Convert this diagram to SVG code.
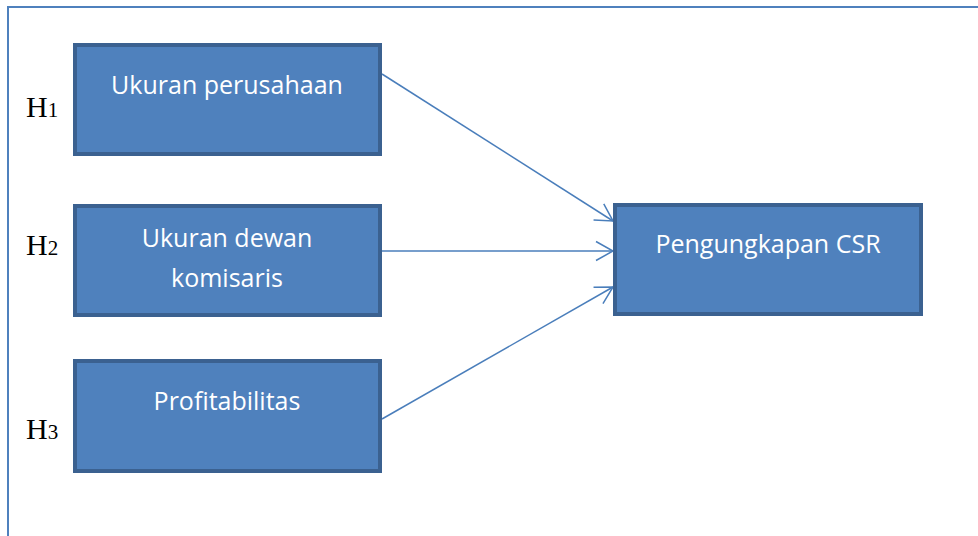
<svg xmlns="http://www.w3.org/2000/svg" width="978" height="536" viewBox="0 0 978 536">
<style>
.box{fill:#4f81bd;stroke:#3b6190;stroke-width:4}
.lbl{font-family:"Open Sans","Liberation Sans",sans-serif;font-size:25px;fill:#ffffff;text-anchor:middle}
.h{font-family:"Liberation Serif","Times New Roman",serif;font-size:30px;fill:#000}
.h tspan{font-size:21px}
.conn{stroke:#4a7ebb;stroke-width:1.5;fill:none;marker-end:url(#arr)}
</style>
<defs>
<marker id="arr" markerUnits="userSpaceOnUse" markerWidth="24" markerHeight="24" viewBox="-20 -12 24 24" refX="0" refY="0" orient="auto">
<path d="M-17,-9.5 L0,0 L-17,9.5" fill="none" stroke="#4a7ebb" stroke-width="1.5"/>
</marker>
</defs>
<rect width="978" height="536" fill="#fff"/>
<path d="M8,537 V7 H979" fill="none" stroke="#4f81bd" stroke-width="2"/>
<g id="connectors">
<line class="conn" x1="382" y1="74" x2="613" y2="221"/>
<line class="conn" x1="382" y1="251" x2="613" y2="251"/>
<line class="conn" x1="382" y1="419" x2="613" y2="287"/>
</g>
<g id="h1"><text class="h" x="26" y="117">H<tspan>1</tspan></text></g>
<g id="h2"><text class="h" x="26" y="255">H<tspan>2</tspan></text></g>
<g id="h3"><text class="h" x="26" y="439">H<tspan>3</tspan></text></g>
<g id="node-ukuran-perusahaan">
<rect class="box" x="75" y="45" width="305" height="109"/>
<text class="lbl" x="227" y="94">Ukuran perusahaan</text>
</g>
<g id="node-ukuran-dewan">
<rect class="box" x="75" y="206" width="305" height="109"/>
<text class="lbl" x="227" y="247">Ukuran dewan</text>
<text class="lbl" x="227" y="287">komisaris</text>
</g>
<g id="node-profitabilitas">
<rect class="box" x="75" y="361" width="305" height="110"/>
<text class="lbl" x="227" y="410">Profitabilitas</text>
</g>
<g id="node-csr">
<rect class="box" x="615" y="205" width="306" height="109"/>
<text class="lbl" x="768" y="253">Pengungkapan CSR</text>
</g>
</svg>
